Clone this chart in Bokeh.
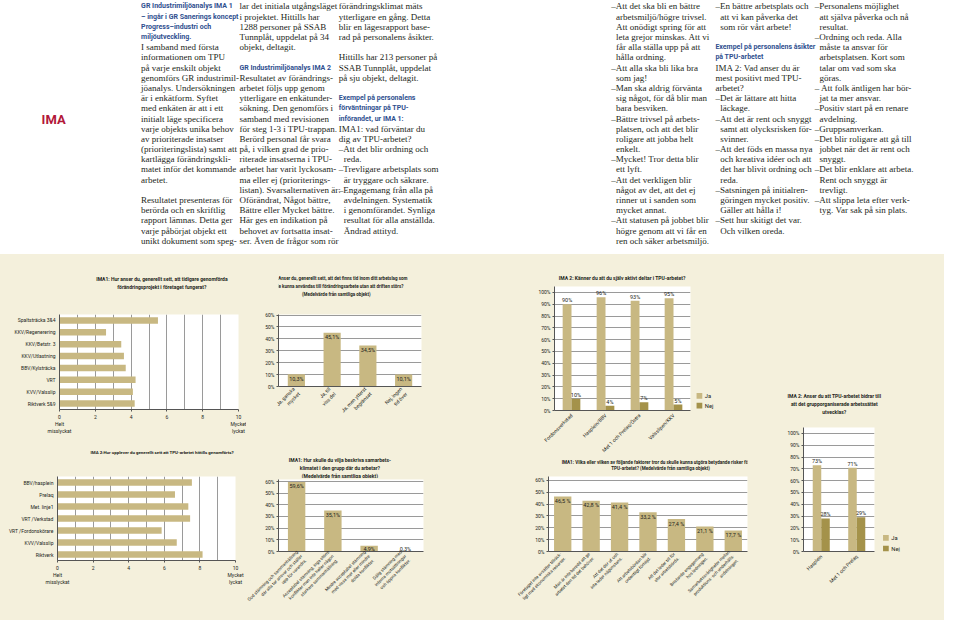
import math
from bokeh.plotting import figure
from bokeh.models import (Range1d, FactorRange, FixedTicker, ColumnDataSource)
from bokeh.layouts import column, row
from bokeh.core.properties import value
from bokeh.transform import dodge
from bokeh.embed import file_html
from bokeh.resources import INLINE

# ---------------- data ----------------
a_labels = ["Spaltsträcka 3&4", "KKV/Regenerering", "KKV/Betstr. 3", "KKV/Utlastning",
            "BBV/Kylsträcka", "VRT", "KVV/Valsslip", "Riktverk 5&9"]
a_values = [5.5, 2.6, 3.45, 3.6, 3.7, 4.25, 4.1, 4.2]

b_labels = ["Ja, ganska\nmycket", "Ja, till\nviss del", "Ja, men ytterst\nbegränsat", "Nej, ingen\ntid över"]
b_values = [10.3, 45.1, 34.5, 10.1]

c_labels = ["Fordonsverkstad", "Hasplein/BBV", "Met 1 och Prelaq/Östra", "Valsslipen/KKV"]
c_ja = [90, 96, 93, 95]
c_nej = [10, 4, 7, 5]

d_labels = ["Hasplein", "Met 1 och Prelaq"]
d_ja = [73, 71]
d_nej = [28, 29]

e_labels = ["BBV/hasplein", "Prelaq", "Met. linje1", "VRT /Verkstad", "VRT /Fordonskörare",
            "KVV/Valsslip", "Riktverk"]
e_values = [7.55, 6.6, 7.35, 7.45, 5.85, 6.7, 8.15]

f_labels = ["God stämning och sammanhållning\ndär alla tar ansvar och ställer\nupp för varandra.",
            "Acceptabel stämning, inga större\nkonflikter men inte heller någon\nstarkare sammanhållning.",
            "Mindre acceptabel stämning\nmed vissa mer eller mindre\ndolda konflikter.",
            "Dålig stämning med\ninterna motsättningar\noch öppna konflikter."]
f_values = [59.6, 35.1, 4.9, 0.3]

g_labels = ["Företaget inte avsätter tillräck-\nligt med ekonomiska resurser.",
            "Man är inte beredd att ge\narbetet den tid det behöver.",
            "Att det dör ut och\ninte leder någonstans.",
            "Att arbetsbördan blir\nordentligt förhöjd.",
            "Att det leder till för\nstor arbetsbörda.",
            "Bristande engagemang\nhos ledningen.",
            "Samarbetssvårigheter mellan\nproduktions- och underhålls-\navdelningen."]
g_values = [46.5, 42.8, 41.4, 33.2, 27.4, 21.1, 17.7]

legend_labels = ["Ja", "Nej"]

a_title = ["IMA1: Hur anser du, generellt sett, att tidigare genomförda",
           "förändringsprojekt i företaget fungerat?"]
b_title = ["IMA 1:Anser du, generellt sett, att det finns tid inom ditt arbetslag som",
           "skulle kunna användas till förändringsarbete utan att driften störs?",
           "(Medelvärde från samtliga objekt)"]
c_title = ["IMA 2: Känner du att du själv aktivt deltar i TPU-arbetet?"]
d_title = ["IMA 2: Anser du att TPU-arbetet bidrar till",
           "att det grupporganiserade arbetssättet", "utvecklas?"]
e_title = ["IMA 2:Hur upplever du generellt sett att TPU-arbetet hittills genomförts?"]
f_title = ["IMA1: Hur skulle du vilja beskriva samarbets-",
           "klimatet i den grupp där du arbetar?",
           "(Medelvärde från samtliga objekt)"]
g_title = ["IMA1: Vilka eller vilken av följande faktorer tror du skulle kunna utgöra betydande risker för/med",
           "TPU-arbetet?  (Medelvärde från samtliga objekt)"]

pct_ticks_60 = [0, 10, 20, 30, 40, 50, 60]
pct_ticks_100 = [0, 10, 20, 30, 40, 50, 60, 70, 80, 90, 100]
scale_ticks = [0, 2, 4, 6, 8, 10]

# text columns: "#" heading, "  " hanging indent, "" blank line
col1 = ["#GR Industrimiljöanalys IMA 1", "#– ingår i GR Sanerings koncept", "#Progress–industri och",
        "#miljöutveckling.", "I samband med första", "informationen om TPU", "på varje enskilt objekt",
        "genomförs GR industrimil-", "jöanalys. Undersökningen", "är i enkätform. Syftet",
        "med enkäten är att i ett", "initialt läge specificera", "varje objekts unika behov",
        "av prioriterade insatser", "(prioriteringslista) samt att", "kartlägga förändringskli-",
        "matet inför det kommande", "arbetet.", "", "Resultatet presenteras för",
        "berörda och en skriftlig", "rapport lämnas. Detta ger", "varje påbörjat objekt ett",
        "unikt dokument som speg-"]
col2 = ["lar det initiala utgångsläget", "i projektet. Hittills har", "1288 personer på SSAB",
        "Tunnplåt, uppdelat på 34", "objekt, deltagit.", "", "#GR Industrimiljöanalys IMA 2",
        "Resultatet av förändrings-", "arbetet följs upp genom", "ytterligare en enkätunder-",
        "sökning. Den genomförs i", "samband med revisionen", "för steg 1-3 i TPU-trappan.",
        "Berörd personal får svara", "på, i vilken grad de prio-", "riterade insatserna i TPU-",
        "arbetet har varit lyckosam-", "ma eller ej (prioriterings-", "listan). Svarsalternativen är:",
        "Oförändrat, Något bättre,", "Bättre eller Mycket bättre.", "Här ges en indikation på",
        "behovet av fortsatta insat-", "ser. Även de frågor som rör"]
col3 = ["förändringsklimat mäts", "ytterligare en gång. Detta", "blir en lägesrapport base-",
        "rad på personalens åsikter.", "", "Hittills har 213 personer på", "SSAB Tunnplåt, uppdelat",
        "på sju objekt, deltagit.", "", "#Exempel på personalens", "#förväntningar på TPU-",
        "#införandet, ur IMA 1:", "IMA1: vad förväntar du", "dig av TPU-arbetet?",
        "–Att det blir ordning och", "  reda.", "–Trevligare arbetsplats som",
        "  är tryggare och säkrare.", "–Engagemang från alla på", "  avdelningen. Systematik",
        "  i genomförandet. Synliga", "  resultat för alla anställda.", "  Ändrad attityd."]
col4 = ["–Att det ska bli en bättre", "  arbetsmiljö/högre trivsel.", "  Att onödigt spring för att",
        "  leta grejor minskas. Att vi", "  får alla ställa upp på att", "  hålla ordning.",
        "–Att alla ska bli lika bra", "  som jag!", "–Man ska aldrig förvänta",
        "  sig något, för då blir man", "  bara besviken.", "–Bättre trivsel på arbets-",
        "  platsen, och att det blir", "  roligare att jobba helt", "  enkelt.",
        "–Mycket! Tror detta blir", "  ett lyft.", "–Att det verkligen blir",
        "  något av det, att det ej", "  rinner ut i sanden som", "  mycket annat.",
        "–Att statusen på jobbet blir", "  högre genom att vi får en", "  ren och säker arbetsmiljö."]
col5 = ["–En bättre arbetsplats och", "  att vi kan påverka det", "  som rör vårt arbete!", "",
        "#Exempel på personalens åsikter", "#på TPU-arbetet", "IMA 2: Vad anser du är",
        "mest positivt med TPU-", "arbetet?", "–Det är lättare att hitta", "  läckage.",
        "–Att det är rent och snyggt", "  samt att olycksrisken för-", "  svinner.",
        "–Att det föds en massa nya", "  och kreativa idéer och att", "  det har blivit ordning och",
        "  reda.", "–Satsningen på initialren-", "  göringen mycket positiv.", "  Gäller att hålla i!",
        "–Sett hur skitigt det var.", "  Och vilken oreda."]
col6 = ["–Personalens möjlighet", "  att själva påverka och nå", "  resultat.",
        "–Ordning och reda. Alla", "  måste ta ansvar för", "  arbetsplatsen. Kort som",
        "  talar om vad som ska", "  göras.", "– Att folk äntligen har bör-", "  jat ta mer ansvar.",
        "–Positiv start på en renare", "  avdelning.", "–Gruppsamverkan.",
        "–Det blir roligare att gå till", "  jobbet när det är rent och", "  snyggt.",
        "–Det blir enklare att arbeta.", "  Rent och snyggt är", "  trevligt.",
        "–Att slippa leta efter verk-", "  tyg. Var sak på sin plats."]
text_columns = [col1, col2, col3, col4, col5, col6]
col_x = [143, 243, 344, 621, 727, 828]

# ---------------- style ----------------
BEIGE = "#f4f0dc"
TAN = "#c8b882"
OLIVE = "#a4924a"
INK = "#231f20"
GRID = "#9a9a9a"
AXIS = "#555555"
BLUE = "#2f4f8f"
RED = "#b2183a"
CF = "Roboto"
SERIF = "Liberation Serif"

W, H = 944, 620
TOP_H = 254
SX = W / 960.0
SY = (H - TOP_H) / (636.0 - 262.0)


def px_x(x):
    return x * SX


def px_y(y):
    return TOP_H + (y - 262.0) * SY


# ---------------- top text block ----------------
top = figure(width=W, height=TOP_H, x_range=Range1d(0, 960), y_range=Range1d(262, 0),
             output_backend="svg", toolbar_location=None, min_border=0,
             x_axis_type=None, y_axis_type=None)
top.grid.visible = False
top.outline_line_color = None
top.background_fill_color = "white"
top.border_fill_color = "white"
top.title.visible = False

LH = 10.52
Y0 = 6.0
hx, hy, ht, bx, by, bt = [], [], [], [], [], []
for cx, lines in zip(col_x, text_columns):
    for i, ln in enumerate(lines):
        if ln == "":
            continue
        y = Y0 + i * LH
        if ln.startswith("#"):
            hx.append(cx); hy.append(y); ht.append(ln[1:])
        elif ln.startswith("  "):
            bx.append(cx + 5); by.append(y); bt.append(ln.strip())
        else:
            bx.append(cx); by.append(y); bt.append(ln)

top.text(x=bx, y=by, text=bt, text_font=value(SERIF), text_font_size="9px",
         text_baseline="middle", text_align="left", text_color=INK)
top.text(x=hx, y=hy, text=ht, text_font=value(CF), text_font_size="7px",
         text_font_style="bold", text_baseline="middle", text_align="left", text_color=BLUE)
top.text(x=[54], y=[123], text=["IMA"], text_font=value(CF), text_font_size="13px",
         text_font_style="bold", text_baseline="middle", text_align="center", text_color=RED)


# ---------------- helpers ----------------
def blank_fig(cell):
    cx0, cx1, cy0, cy1 = cell
    w = round(px_x(cx1)) - round(px_x(cx0))
    h = round(px_y(cy1)) - round(px_y(cy0))
    t = figure(width=w, height=h, x_range=Range1d(cx0, cx1), y_range=Range1d(cy1, cy0),
               output_backend="svg", toolbar_location=None, min_border=0,
               x_axis_type=None, y_axis_type=None)
    t.title.visible = False
    t.grid.visible = False
    t.outline_line_color = None
    t.background_fill_color = BEIGE
    t.border_fill_color = BEIGE
    return t


def title_fig(cell, xc, ys, lines, size="5px"):
    t = blank_fig(cell)
    t.text(x=[xc] * len(lines), y=ys, text=lines, text_font=value(CF), text_font_size=size,
           text_font_style="bold", text_align="center", text_baseline="middle", text_color=INK)
    return t


def legend_fig(cell, box_y, sw_x, sw_ys):
    # same vertical borders as the neighbouring chart, so both frames line up
    cx0, cx1, cy0, cy1 = cell
    by0, by1 = box_y
    Y0_, Y1 = round(px_y(cy0)), round(px_y(cy1))
    lf = figure(width=round(px_x(cx1)) - round(px_x(cx0)), height=Y1 - Y0_,
                x_range=Range1d(cx0, cx1), y_range=Range1d(by1, by0),
                output_backend="svg", toolbar_location=None,
                min_border_left=0, min_border_right=0,
                min_border_top=round(px_y(by0)) - Y0_, min_border_bottom=Y1 - round(px_y(by1)),
                x_axis_type=None, y_axis_type=None)
    lf.title.visible = False
    lf.grid.visible = False
    lf.outline_line_color = None
    lf.background_fill_color = BEIGE
    lf.border_fill_color = BEIGE
    lf.rect(x=[sw_x] * 2, y=sw_ys, width=5.8, height=5.8, color=[TAN, OLIVE], line_color=None)
    lf.text(x=[sw_x + 5.5] * 2, y=sw_ys, text=legend_labels, text_font=value(CF),
            text_font_size="5.8px", text_align="left", text_baseline="middle", text_color=INK)
    return lf


def make_fig(cell, box, x_range, y_range, label_size="5px"):
    cx0, cx1, cy0, cy1 = cell
    bx0, bx1, by0, by1 = box
    X0, X1 = round(px_x(cx0)), round(px_x(cx1))
    Y0_, Y1 = round(px_y(cy0)), round(px_y(cy1))
    p = figure(width=X1 - X0, height=Y1 - Y0_, x_range=x_range, y_range=y_range,
               output_backend="svg", toolbar_location=None,
               min_border_left=round(px_x(bx0)) - X0, min_border_right=X1 - round(px_x(bx1)),
               min_border_top=round(px_y(by0)) - Y0_, min_border_bottom=Y1 - round(px_y(by1)))
    p.title.visible = False
    p.background_fill_color = "white"
    p.border_fill_color = BEIGE
    p.outline_line_color = None
    for ax in p.axis:
        ax.axis_line_color = AXIS
        ax.axis_line_width = 1
        ax.major_tick_line_color = AXIS
        ax.minor_tick_line_color = None
        ax.major_tick_out = 2
        ax.major_tick_in = 0
        ax.major_label_text_font = CF
        ax.major_label_text_font_size = "5px"
        ax.major_label_text_color = INK
        ax.major_label_standoff = 2
    p.xaxis.major_label_text_font_size = label_size
    return p


def hbar_chart(cell, box, labels, vals):
    p = make_fig(cell, box, Range1d(0, 10), FactorRange(factors=labels[::-1]))
    p.hbar(y=labels, left=0, right=vals, height=0.55, color=TAN, line_color=None)
    p.xaxis.ticker = FixedTicker(ticks=scale_ticks)
    p.xaxis.major_label_overrides = {0: "0\nHelt\nmisslyckat", 10: "10\nMycket\nlyckat"}
    p.xgrid.ticker = FixedTicker(ticks=list(range(11)))
    p.xgrid.grid_line_color = GRID
    p.ygrid.grid_line_color = None
    p.yaxis.major_tick_line_color = None
    return p


def pct_axis(p, ticks):
    p.yaxis.ticker = FixedTicker(ticks=ticks)
    p.yaxis.major_label_overrides = {t: f"{t}%" for t in ticks}
    p.ygrid.ticker = FixedTicker(ticks=ticks)
    p.ygrid.grid_line_color = GRID
    p.xgrid.grid_line_color = None
    p.xaxis.major_tick_line_color = None
    p.xaxis.major_label_orientation = math.pi / 4


def vbar_chart(cell, box, labels, vals, ymax, ticks, width, fmt, min_label_y, label_size="5px"):
    p = make_fig(cell, box, FactorRange(factors=labels), Range1d(0, ymax), label_size)
    p.vbar(x=labels, top=vals, width=width, color=TAN, line_color=None)
    pct_axis(p, ticks)
    src = ColumnDataSource(dict(x=labels, y=[max(v, min_label_y) for v in vals],
                                t=[fmt(v) for v in vals]))
    p.text(x="x", y="y", text="t", source=src, text_font=value(CF), text_font_size="5.5px",
           text_align="center", text_baseline="top", y_offset=1.5, text_color=INK)
    return p


def grouped_chart(cell, box, labels, ja, nej, width):
    p = make_fig(cell, box, FactorRange(factors=labels), Range1d(0, 105))
    src = ColumnDataSource(dict(x=labels, ja=ja, nej=nej,
                                tja=[f"{v}%" for v in ja], tnej=[f"{v}%" for v in nej]))
    off = width / 2
    p.vbar(x=dodge("x", -off, range=p.x_range), top="ja", width=width, source=src,
           color=TAN, line_color=None)
    p.vbar(x=dodge("x", off, range=p.x_range), top="nej", width=width, source=src,
           color=OLIVE, line_color=None)
    for key, t, o in (("ja", "tja", -off), ("nej", "tnej", off)):
        p.text(x=dodge("x", o, range=p.x_range), y=key, text=t, source=src,
               text_font=value(CF), text_font_size="5.5px", text_align="center",
               text_baseline="bottom", y_offset=-1, text_color=INK)
    pct_axis(p, pct_ticks_100)
    return p


# ---------------- charts ----------------
fmt_pct = lambda v: f"{v:.1f}%".replace(".", ",")
fmt_pct_sp = lambda v: f"{v:.1f} %".replace(".", ",")

cell_a = column(title_fig((0, 250, 262, 305), 143, [287, 295], a_title),
                hbar_chart((0, 250, 305, 455), (60, 242, 323, 420), a_labels, a_values))
cell_e = column(title_fig((0, 250, 455, 472), 147, [464], e_title, size="4.4px"),
                hbar_chart((0, 250, 472, 636), (58, 239, 489, 575), e_labels, e_values))
cell_b = column(title_fig((250, 510, 262, 310), 355, [287, 295, 303], b_title, size="4.5px"),
                vbar_chart((250, 510, 310, 455), (283, 428, 323, 397), b_labels, b_values, 60.5,
                           pct_ticks_60, 0.48, fmt_pct, 0))
cell_f = column(title_fig((250, 510, 455, 491), 360, [472, 480, 488], f_title),
                vbar_chart((250, 510, 491, 636), (283, 430, 492, 566), f_labels, f_values, 61.7,
                           pct_ticks_60, 0.48, fmt_pct, 6, label_size="4.4px"))
cell_c = column(title_fig((510, 775, 262, 291), 632, [286], c_title),
                row(grouped_chart((510, 706, 291, 470), (563, 702, 295, 422), c_labels, c_ja, c_nej, 0.26),
                    legend_fig((706, 775, 291, 470), (295, 422), 711, [407, 417])))
cell_g = column(title_fig((510, 775, 470, 484), 660, [474, 480.5], g_title, size="4.6px"),
                vbar_chart((510, 775, 484, 636), (557, 760, 489, 566), g_labels, g_values, 63.3,
                           pct_ticks_60, 0.61, fmt_pct_sp, 0, label_size="4.4px"))
cell_d = column(title_fig((775, 960, 262, 430), 848, [407, 415, 423], d_title),
                row(grouped_chart((775, 893, 430, 636), (817, 889, 439, 566), d_labels, d_ja, d_nej, 0.24),
                    legend_fig((893, 960, 430, 636), (439, 566), 900.5, [552, 563])))

bg = {"background-color": BEIGE}
bottom = row(column(cell_a, cell_e, styles=bg), column(cell_b, cell_f, styles=bg),
             column(cell_c, cell_g, styles=bg), cell_d, styles=bg)
page = column(top, bottom)

open("out.html", "w").write(file_html(page, INLINE))
